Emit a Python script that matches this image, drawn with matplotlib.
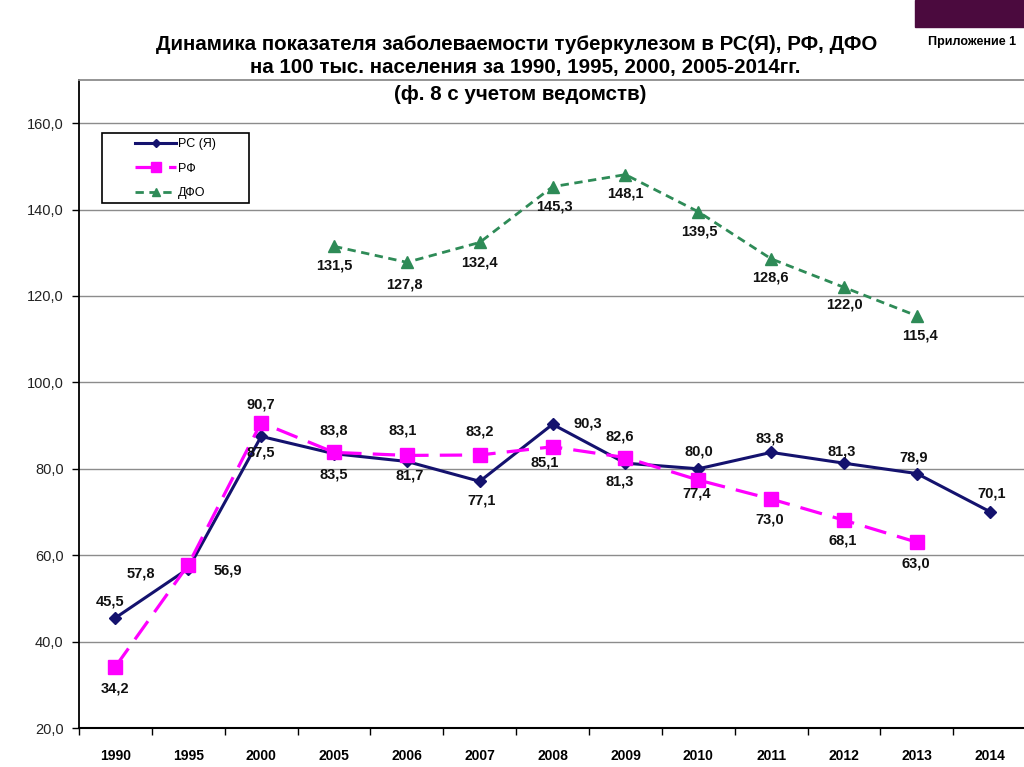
import matplotlib
matplotlib.use("Agg")
import matplotlib.pyplot as plt
import numpy as np

# ── Data ──────────────────────────────────────────────────────────────────────
years = ["1990", "1995", "2000", "2005", "2006", "2007", "2008",
         "2009", "2010", "2011", "2012", "2013", "2014"]
rs_ya = [45.5, 56.9, 87.5, 83.5, 81.7, 77.1, 90.3, 81.3, 80.0, 83.8, 81.3, 78.9, 70.1]
rf    = [34.2, 57.8, 90.7, 83.8, 83.1, 83.2, 85.1, 82.6, 77.4, 73.0, 68.1, 63.0, np.nan]
dfo   = [np.nan, np.nan, np.nan, 131.5, 127.8, 132.4, 145.3, 148.1, 139.5,
         128.6, 122.0, 115.4, np.nan]

# label offsets in pixels (dx, dy) for each point
RS_OFF  = [(-5, 16), (40, -2), (0, -16), (0, -21), (3, -14), (2, -19), (35, 1),
           (-6, -18), (1, 17), (-1, 14), (-2, 12), (-3, 16), (2, 18)]
RF_OFF  = [(0, -22), (-47, -9), (0, 18), (0, 22), (-4, 25), (0, 23), (-8, -16),
           (-6, 21), (-2, -13), (-1, -20), (-1, -20), (-1, -21), None]
DFO_OFF = [None, None, None, (0, -19), (-2, -22), (0, -20), (2, -20), (0, -19),
           (1, -20), (-1, -19), (0, -17), (3, -20), None]

NAVY    = "#14126e"
MAGENTA = "#ff00ff"
GREEN   = "#2e8b57"
FONT    = "Liberation Sans"

plt.rcParams["font.family"] = [FONT, "DejaVu Sans"]

fig = plt.figure(figsize=(10.24, 7.67), dpi=100, facecolor="white")
ax = fig.add_axes([79 / 1024, 1 - 728 / 767, 1 - 79 / 1024, (728 - 80) / 767])

x = np.arange(len(years))

ax.plot(x, rs_ya, color=NAVY, lw=2.2, marker="D", ms=6, mfc=NAVY, mec=NAVY,
        label="РС (Я)", zorder=3)
ax.plot(x, rf, color=MAGENTA, lw=2.3, ls=(0, (7, 3.5)), marker="s", ms=9.5,
        mfc=MAGENTA, mec=MAGENTA, label="РФ", zorder=4)
ax.plot(x, dfo, color=GREEN, lw=2.0, ls=(0, (3, 2)), marker="^", ms=8,
        mfc=GREEN, mec=GREEN, label="ДФО", zorder=3)

# ── Value labels ─────────────────────────────────────────────────────────────
for series, offs in [(rs_ya, RS_OFF), (rf, RF_OFF), (dfo, DFO_OFF)]:
    for i, (v, off) in enumerate(zip(series, offs)):
        if off is None or np.isnan(v):
            continue
        ax.annotate(f"{v:.1f}".replace(".", ","), (i, v), xytext=off,
                    textcoords="offset pixels", ha="center", va="center",
                    fontsize=10.5, fontweight="bold", color="#111111", zorder=5)

# ── Axes styling ─────────────────────────────────────────────────────────────
ax.set_xlim(-0.5, 12.47)
ax.set_ylim(20, 170)
ax.set_yticks(np.arange(20, 161, 20))
ax.set_yticklabels([f"{t:.1f}".replace(".", ",") for t in np.arange(20, 161, 20)],
                   fontsize=10.5, color="#222222")
ax.set_xticks(x)
ax.set_xticklabels(years, fontsize=10, fontweight="bold")
ax.set_xticks(np.arange(-0.5, 12.5, 1), minor=True)
ax.tick_params(axis="x", which="major", length=0, pad=15)
ax.tick_params(axis="x", which="minor", length=5, width=1, direction="out")
ax.tick_params(axis="y", length=5, width=1, direction="out", pad=6)

ax.grid(axis="y", color="#8c8c8c", lw=1)
ax.set_axisbelow(True)
ax.spines["left"].set_color("black")
ax.spines["left"].set_linewidth(1.3)
ax.spines["bottom"].set_color("black")
ax.spines["bottom"].set_linewidth(1.5)
ax.spines["top"].set_color("#8c8c8c")
ax.spines["top"].set_linewidth(1.3)
ax.spines["right"].set_visible(False)

# legend: frameless entries plus a separate box, as in the original
leg = ax.legend(loc="upper left", bbox_to_anchor=((135 - 79) / 945, (728 - 138) / 648),
                fontsize=9, frameon=False, handlelength=3.3, markerscale=0.7,
                labelspacing=1.0, handletextpad=0.15, borderpad=0, borderaxespad=0)
fig.patches.append(plt.Rectangle((102 / 1024, 1 - 203 / 767), 147 / 1024, 70 / 767,
                                 transform=fig.transFigure, fill=False,
                                 edgecolor="black", lw=1.2, zorder=6))

# ── Titles ───────────────────────────────────────────────────────────────────
TITLE_KW = dict(ha="center", va="center", fontsize=14.8, fontweight="bold")
fig.text(0.505, 1 - 45 / 767, "Динамика показателя заболеваемости туберкулезом в РС(Я), РФ, ДФО",
         **TITLE_KW)
fig.text(0.513, 1 - 68 / 767, "на 100 тыс. населения за 1990, 1995, 2000, 2005-2014гг.",
         **TITLE_KW)
fig.text(0.508, 1 - 95 / 767, "(ф. 8 с учетом ведомств)", **TITLE_KW)
fig.text(0.949, 1 - 42 / 767, "Приложение 1", ha="center", va="center",
         fontsize=9, fontweight="bold")

fig.patches.append(plt.Rectangle((915 / 1024, 1 - 27 / 767), 109 / 1024, 27 / 767,
                                 transform=fig.transFigure, color="#4b0a3e"))

fig.savefig("out.png", dpi=100, facecolor="white")
